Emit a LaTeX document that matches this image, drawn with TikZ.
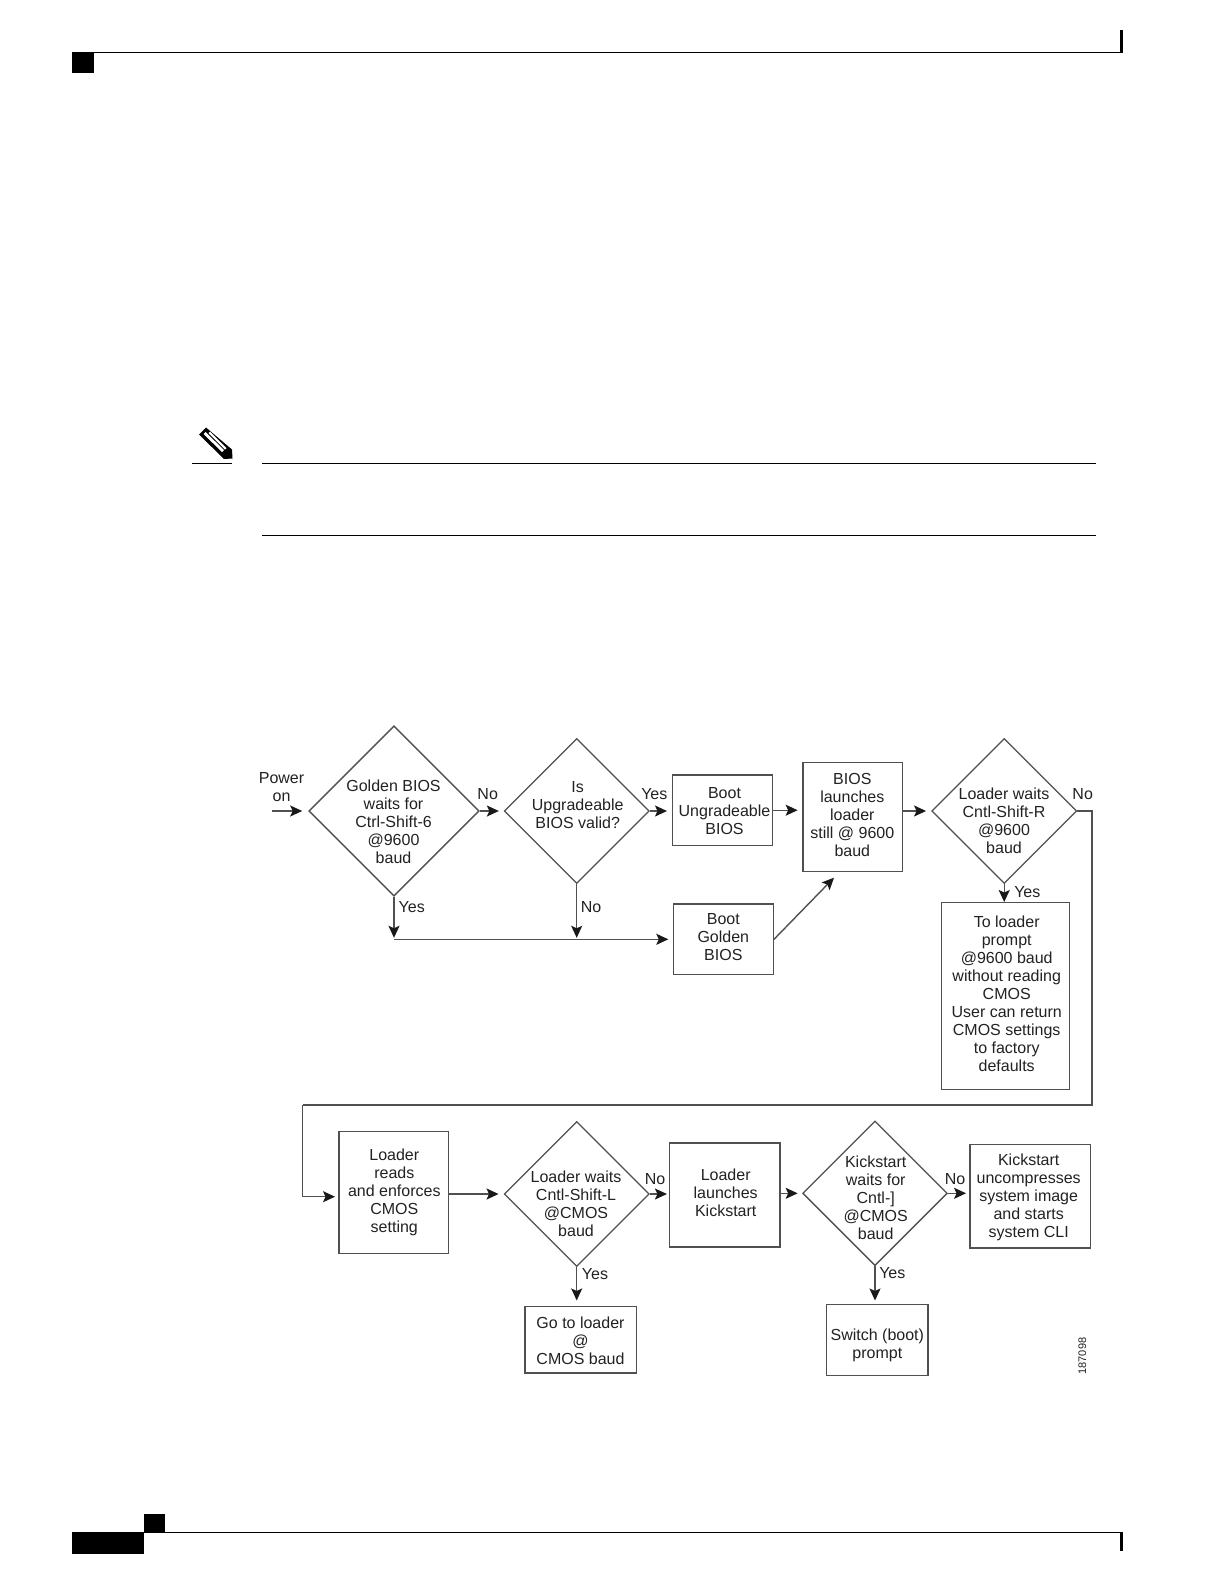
\documentclass[tikz,border=0pt]{standalone}
\usepackage{fontspec}
\setmainfont{Liberation Sans}
\usetikzlibrary{shapes.geometric,arrows.meta}
\definecolor{flowline}{HTML}{505050}
\definecolor{flowtext}{HTML}{222222}
\tikzset{
  lbl/.style={align=center,inner sep=0pt,text=flowtext,font=\fontsize{16}{18}\selectfont},
  bx/.style={draw=flowline,line width=1.4pt,rectangle,inner sep=0pt},
  dm/.style={draw=flowline,line width=1.3pt,diamond,shape aspect=1,inner sep=0pt},
  conn/.style={draw=flowline,line width=1.4pt,-{Stealth[length=12pt,width=11pt,inset=2.5pt,color=black!90]}},
  plain/.style={draw=flowline,line width=1.4pt},
  rulethin/.style={draw=black,line width=1.2pt},
  pagefill/.style={fill=black,draw=none}
}
\begin{document}
\begin{tikzpicture}[x=1pt,y=-1pt]
\useasboundingbox[fill=white] (0,0) rectangle (1224,1584);

% page furniture
\draw[rulethin] (72,52.3) -- (1123,52.3);
\fill[pagefill] (72,52) rectangle (94,73);
\fill[pagefill] (1120,30) rectangle (1123,53);
\draw[rulethin] (72,1532.3) -- (1123,1532.3);
\fill[pagefill] (72,1532) rectangle (144,1554);
\fill[pagefill] (144,1514) rectangle (165,1532);
\fill[pagefill] (1120,1532) rectangle (1123,1551);

% note rules and pencil
\draw[rulethin,line width=1pt] (192,463) -- (232,463);
\draw[rulethin,line width=1pt] (262,463.5) -- (1096,463.5);
\draw[rulethin,line width=1pt] (262,535.5) -- (1096,535.5);
\fill[pagefill] (206,427.5) -- (199,434.5) -- (224,459) -- (232.5,458.5) -- (232,449.5) -- cycle;
\fill[white] (205.5,432) -- (203.5,434) -- (222,452) -- (224,450) -- cycle;
\fill[white] (210,431.5) -- (208.5,433) -- (225,449.5) -- (226.5,448) -- cycle;

% shapes
\node[dm,minimum size=170.3pt] (d1) at (394,811) {};
\node[dm,minimum size=145pt] (d2) at (576.7,811) {};
\node[bx,minimum width=100pt,minimum height=70.3pt] (upg) at (722.3,810.2) {};
\node[bx,minimum width=99.3pt,minimum height=109pt] (bios) at (852.7,816.8) {};
\node[dm,minimum size=145pt] (d3) at (1004.2,811) {};
\node[bx,minimum width=99.6pt,minimum height=70.7pt] (gold) at (723.5,939.3) {};
\node[bx,minimum width=127.6pt,minimum height=186.6pt] (toload) at (1005.5,996) {};
\node[bx,minimum width=109.7pt,minimum height=122pt] (lr) at (393.8,1192.3) {};
\node[dm,minimum size=145pt] (d4) at (576.7,1194) {};
\node[bx,minimum width=110.7pt,minimum height=104pt] (ll) at (724.7,1195) {};
\node[dm,minimum size=144.6pt] (d5) at (875,1193.3) {};
\node[bx,minimum width=120.3pt,minimum height=103.3pt] (ks) at (1030.2,1196.3) {};
\node[bx,minimum width=111.7pt,minimum height=66.3pt] (goto) at (580.8,1339.8) {};
\node[bx,minimum width=101.7pt,minimum height=70.6pt] (sw) at (877.2,1340) {};

% texts
\node[lbl] (tpow) at (281.5,787) {Power\\on};
\node[lbl] (t1) at (393.5,821.5) {Golden BIOS\\waits for\\Ctrl-Shift-6\\@9600\\baud};
\node[lbl] (t2) at (577.7,805) {Is\\Upgradeable\\BIOS valid?};
\node[lbl] (t3) at (724.5,811.5) {Boot\\Ungradeable\\BIOS};
\node[lbl] (t4) at (852.3,815) {BIOS\\launches\\loader\\still @ 9600\\baud};
\node[lbl] (t5) at (1004,821) {Loader waits\\Cntl-Shift-R\\@9600\\baud};
\node[lbl] (t6) at (723.3,937) {Boot\\Golden\\BIOS};
\node[lbl] (t7) at (1006.7,994) {To loader\\prompt\\@9600 baud\\without reading\\CMOS\\User can return\\CMOS settings\\to factory\\defaults};
\node[lbl] (t8) at (394.3,1192) {Loader\\reads\\and enforces\\CMOS\\setting};
\node[lbl] (t9) at (576,1203.5) {Loader waits\\Cntl-Shift-L\\@CMOS\\baud};
\node[lbl] (t10) at (725.7,1192.5) {Loader\\launches\\Kickstart};
\node[lbl] (t11) at (875.7,1197.8) {Kickstart\\waits for\\Cntl-]\\@CMOS\\baud};
\node[lbl] (t12) at (1028.7,1197) {Kickstart\\uncompresses\\system image\\and starts\\system CLI};
\node[lbl] (t13) at (580.5,1341) {Go to loader\\@\\CMOS baud};
\node[lbl] (t14) at (877.3,1345) {Switch (boot)\\prompt};
\node[lbl,font=\fontsize{11}{12}\selectfont,rotate=90] (tid) at (1082.3,1356) {187098};

% connector labels
\node[lbl] (lno1) at (487.7,794.3) {No};
\node[lbl] (lyes1) at (654.3,794) {Yes};
\node[lbl] (lyes2) at (411.7,906.7) {Yes};
\node[lbl] (lno2) at (591,906.7) {No};
\node[lbl] (lno3) at (1082.7,794) {No};
\node[lbl] (lyes3) at (1027.3,891.7) {Yes};
\node[lbl] (lno4) at (655,1179) {No};
\node[lbl] (lyes4) at (595,1273.7) {Yes};
\node[lbl] (lno5) at (955,1179) {No};
\node[lbl] (lyes5) at (892.3,1273.3) {Yes};

% free connector ends
\coordinate (pw) at (271.7,811);
\coordinate (jy) at (d1.south |- gold.west);
\coordinate (jn) at (d2.south |- gold.west);
\coordinate (gb) at (834,877.7);
\coordinate (c1) at (1092,1105);
\coordinate (c2) at (302.7,1105);
\coordinate (lrin) at (339,1196.7);

% connectors
\draw[conn,shorten >=6pt] (pw) -- (d1.west);
\draw[conn,shorten >=4.7pt] (d1.east) -- (d2.west);
\draw[conn,shorten >=4.6pt] (d2.east) -- (d2.east -| upg.west);
\draw[conn,shorten >=4.7pt] (upg.east) -- (upg.east -| bios.west);
\draw[conn,shorten >=5pt] (d3.west -| bios.east) -- (d3.west);
\draw[plain] (d3.east) -| (c1) -- (c2);
\draw[conn,shorten >=4pt] (c2) |- (lrin);
\draw[conn,shorten >=1.5pt] (d1.south) -- (jy);
\draw[conn,shorten >=1.5pt] (d2.south) -- (jn);
\draw[conn,shorten >=4.7pt] (jy) -- (gold.west);
\draw[conn] (gold.east) -- (gb);
\draw[conn] (d3.south) -- (d3.south |- toload.north);
\draw[conn,shorten >=5pt] (d4.west -| lr.east) -- (d4.west);
\draw[conn,shorten >=1.7pt] (d4.east) -- (d4.east -| ll.west);
\draw[conn,shorten >=4.4pt] (d5.west -| ll.east) -- (d5.west);
\draw[conn,shorten >=3.3pt] (d5.east) -- (d5.east -| ks.west);
\draw[conn,shorten >=5.5pt] (d4.south) -- (d4.south |- goto.north);
\draw[conn,shorten >=3.5pt] (d5.south) -- (d5.south |- sw.north);
\end{tikzpicture}
\end{document}
